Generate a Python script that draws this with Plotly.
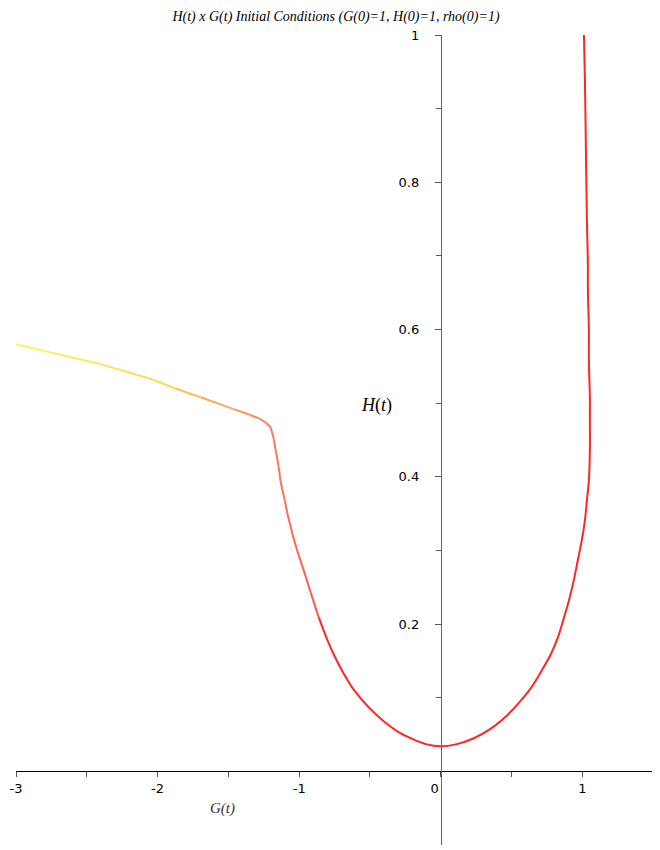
"""Plots the H(t) x G(t) phase curve."""

import plotly.graph_objects as go
from plotly.colors import sample_colorscale

# values, ordered from the left end to the top right
g_vals = [-3.0, -2.756, -2.580, -2.403, -2.226, -2.049, -1.873, -1.696,
          -1.463, -1.343, -1.272, -1.237, -1.201, -1.180, -1.166, -1.145,
          -1.131, -1.102, -1.081, -1.046, -1.011, -0.968, -0.919, -0.862,
          -0.806, -0.749, -0.686, -0.615, -0.509, -0.403, -0.304, -0.212,
          -0.106, 0.0,
          0.113, 0.233, 0.353, 0.473, 0.565, 0.636, 0.707, 0.777, 0.827,
          0.869, 0.905, 0.940, 0.968, 0.996, 1.018, 1.032, 1.046, 1.053,
          1.053, 1.053, 1.046, 1.046, 1.039, 1.039, 1.032, 1.025, 1.018,
          1.011]
h_vals = [0.580, 0.569, 0.561, 0.553, 0.543, 0.533, 0.520, 0.508,
          0.492, 0.484, 0.478, 0.474, 0.467, 0.452, 0.436, 0.414,
          0.393, 0.368, 0.348, 0.321, 0.298, 0.273, 0.243, 0.209,
          0.181, 0.156, 0.133, 0.111, 0.087, 0.068, 0.054, 0.045,
          0.037, 0.034,
          0.037, 0.045, 0.058, 0.077, 0.096, 0.113, 0.135, 0.159, 0.182,
          0.208, 0.232, 0.260, 0.287, 0.314, 0.341, 0.368, 0.395, 0.436,
          0.477, 0.508, 0.558, 0.599, 0.654, 0.690, 0.749, 0.844, 0.939,
          1.0]

x_ticks = [-3, -2, -1, 0, 1]
x_labels = ['-3', '-2', '-1', '0&nbsp;&nbsp;&nbsp;', '1']
x_minor = [-2.5, -1.5, -0.5, 0.5]
y_ticks = [0.2, 0.4, 0.6, 0.8, 1.0]
y_labels = ['0.2', '0.4', '0.6', '0.8', '1']
y_minor = [0.1, 0.3, 0.5, 0.7, 0.9]

TITLE = 'H(t) x G(t) Initial Conditions (G(0)=1, H(0)=1, rho(0)=1)'

# yellow at the far left, fading to red past the kink
COLORSCALE = [[0.0, '#FFF650'], [0.25, '#FFD858'], [0.444, '#FF7A62'],
              [0.55, '#FF4A48'], [0.65, '#FF2E2E'], [1.0, '#FF2222']]
N_GRAD = 23  # segments drawn one by one, the rest is one red spline

fig = go.Figure()

g_lo, g_hi = min(g_vals), max(g_vals)
for i in range(N_GRAD):
  mid = (g_vals[i] + g_vals[i + 1]) / 2
  col = sample_colorscale(COLORSCALE, [(mid - g_lo) / (g_hi - g_lo)])[0]
  fig.add_trace(go.Scatter(
      x=g_vals[i:i + 2], y=h_vals[i:i + 2], mode='lines',
      line=dict(color=col, width=2), hoverinfo='skip', showlegend=False))

fig.add_trace(go.Scatter(
    x=g_vals[N_GRAD:], y=h_vals[N_GRAD:], mode='lines',
    line=dict(color='#FF2626', width=2, shape='spline', smoothing=1.0),
    hoverinfo='skip', showlegend=False))

tick_font = dict(family='DejaVu Sans', size=13, color='black')

# the page body adds 8px on the top and left, so the margins allow for it
fig.update_layout(
    width=660, height=850,
    margin=dict(l=8, r=12, t=27, b=13),
    plot_bgcolor='white', paper_bgcolor='white',
    title=dict(text=f'<i>{TITLE}</i>', x=0.5, xanchor='center',
               xref='paper', y=1 - 8 / 850, yanchor='middle',
               font=dict(family='Liberation Serif', size=14, color='black')),
    xaxis=dict(range=[-3, 1.52], anchor='free', position=0.1 / 1.1,
               automargin=False,
               showline=True, linecolor='black', linewidth=1,
               showgrid=False, zeroline=False,
               tickvals=x_ticks, ticktext=x_labels,
               ticks='outside', ticklen=5, tickcolor='#555',
               tickfont=tick_font,
               minor=dict(tickvals=x_minor, ticks='outside', ticklen=5,
                          tickcolor='#555')),
    yaxis=dict(range=[-0.1, 1.0], anchor='free', position=3 / 4.52,
               automargin=False,
               showline=True, linecolor='#666', linewidth=1,
               showgrid=False, zeroline=False,
               tickvals=y_ticks, ticktext=y_labels,
               ticks='outside', ticklen=6, tickcolor='#555',
               tickfont=tick_font, ticklabelstandoff=13,
               minor=dict(tickvals=y_minor, ticks='outside', ticklen=5,
                          tickcolor='#555')),
)

# axis labels, placed where Maple puts them
fig.add_annotation(x=-1.54, y=-0.05, xref='x', yref='y', text='<i>G(t)</i>',
                   showarrow=False,
                   font=dict(family='Liberation Serif', size=15,
                             color='#333'))
fig.add_annotation(x=-0.452, y=0.497, xref='x', yref='y',
                   text='<i>H</i>(<i>t</i>)', showarrow=False,
                   font=dict(family='Liberation Serif', size=18,
                             color='black'))

fig.write_html('out.html')
